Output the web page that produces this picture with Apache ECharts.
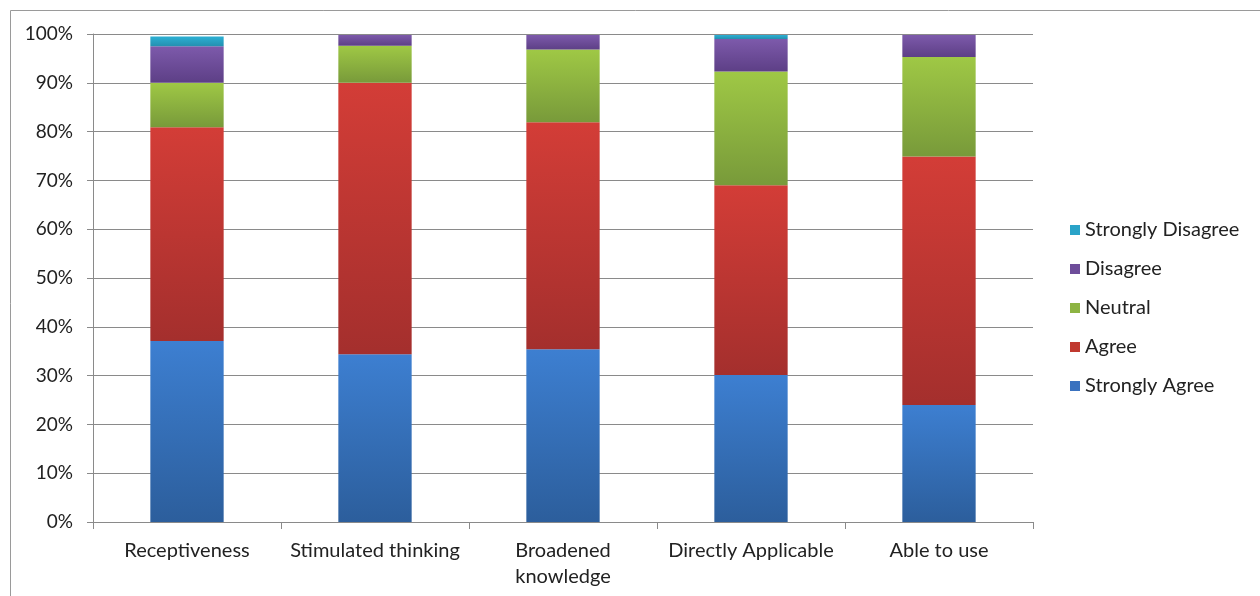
<!DOCTYPE html>
<html lang="en">
<head>
    <meta charset="UTF-8">
    <title>Survey responses</title>
    <script src="https://cdn.jsdelivr.net/npm/echarts@6/dist/echarts.min.js"></script>
    <style>
        body { margin: 0; background: #fff; }
        #chart { width: 1260px; height: 596px; }
    </style>
</head>
<body>
    <div id="chart"></div>
    <script>
        // categories and values (percent of responses)
        const categories = ['Receptiveness', 'Stimulated thinking', 'Broadened\nknowledge', 'Directly Applicable', 'Able to use'];
        const stronglyAgree = [37.1, 34.4, 35.4, 30.1, 24.0];
        const agree = [43.8, 55.6, 46.5, 38.9, 50.9];
        const neutral = [9.1, 7.6, 14.9, 23.3, 20.4];
        const disagree = [7.5, 2.2, 3.0, 6.7, 4.5];
        const stronglyDisagree = [2.0, 0, 0, 0.8, 0];
        const yTicks = [0, 10, 20, 30, 40, 50, 60, 70, 80, 90, 100];

        const font = 'Lato, "Open Sans", sans-serif';

        function grad(top, bottom) {
            return {
                type: 'linear', x: 0, y: 0, x2: 0, y2: 1,
                colorStops: [{ offset: 0, color: top }, { offset: 1, color: bottom }]
            };
        }

        const seriesDefs = [
            { name: 'Strongly Agree', data: stronglyAgree, top: '#3d7fd1', bottom: '#2c5e9c', icon: '#3a72bf' },
            { name: 'Agree', data: agree, top: '#d33d37', bottom: '#a42f2d', icon: '#c0392f' },
            { name: 'Neutral', data: neutral, top: '#9fc845', bottom: '#789a3a', icon: '#8db443' },
            { name: 'Disagree', data: disagree, top: '#7d5aab', bottom: '#5d3f86', icon: '#6e4d9a' },
            { name: 'Strongly Disagree', data: stronglyDisagree, top: '#2cb0d4', bottom: '#2490b0', icon: '#2aa3c8' }
        ];

        const chart = echarts.init(document.getElementById('chart'));
        chart.setOption({
            animation: false,
            textStyle: { fontFamily: font },
            graphic: [{
                type: 'rect',
                shape: { x: 10.5, y: 10.5, width: 1300, height: 700 },
                style: { fill: 'none', stroke: '#9a9a9a', lineWidth: 1 },
                silent: true
            }],
            grid: { left: 93, right: 227, top: 34, bottom: 74 },
            legend: {
                orient: 'vertical',
                left: 1065,
                top: 215,
                itemGap: 19,
                itemWidth: 10,
                itemHeight: 10,
                icon: 'rect',
                data: seriesDefs.slice().reverse().map(s => ({ name: s.name, itemStyle: { color: s.icon } })),
                textStyle: { fontSize: 20, lineHeight: 20, color: '#222', fontFamily: font }
            },
            xAxis: {
                type: 'category',
                data: categories,
                axisLine: { lineStyle: { color: '#8a8a8a' } },
                axisTick: { show: true, length: 7, lineStyle: { color: '#8a8a8a' } },
                axisLabel: { fontSize: 20, color: '#222', margin: 16, lineHeight: 26, interval: 0 }
            },
            yAxis: {
                type: 'value',
                min: 0,
                max: 100,
                interval: 10,
                axisLine: { show: true, lineStyle: { color: '#8a8a8a' } },
                axisTick: { show: true, length: 6, lineStyle: { color: '#8a8a8a' } },
                splitLine: { lineStyle: { color: '#8a8a8a' } },
                axisLabel: {
                    fontSize: 19, color: '#222', margin: 20,
                    formatter: v => yTicks.includes(v) ? v + '%' : ''
                }
            },
            series: seriesDefs.map(s => ({
                name: s.name,
                type: 'bar',
                stack: 'total',
                barWidth: '39%',
                data: s.data,
                itemStyle: { color: grad(s.top, s.bottom) }
            }))
        });
    </script>
</body>
</html>
